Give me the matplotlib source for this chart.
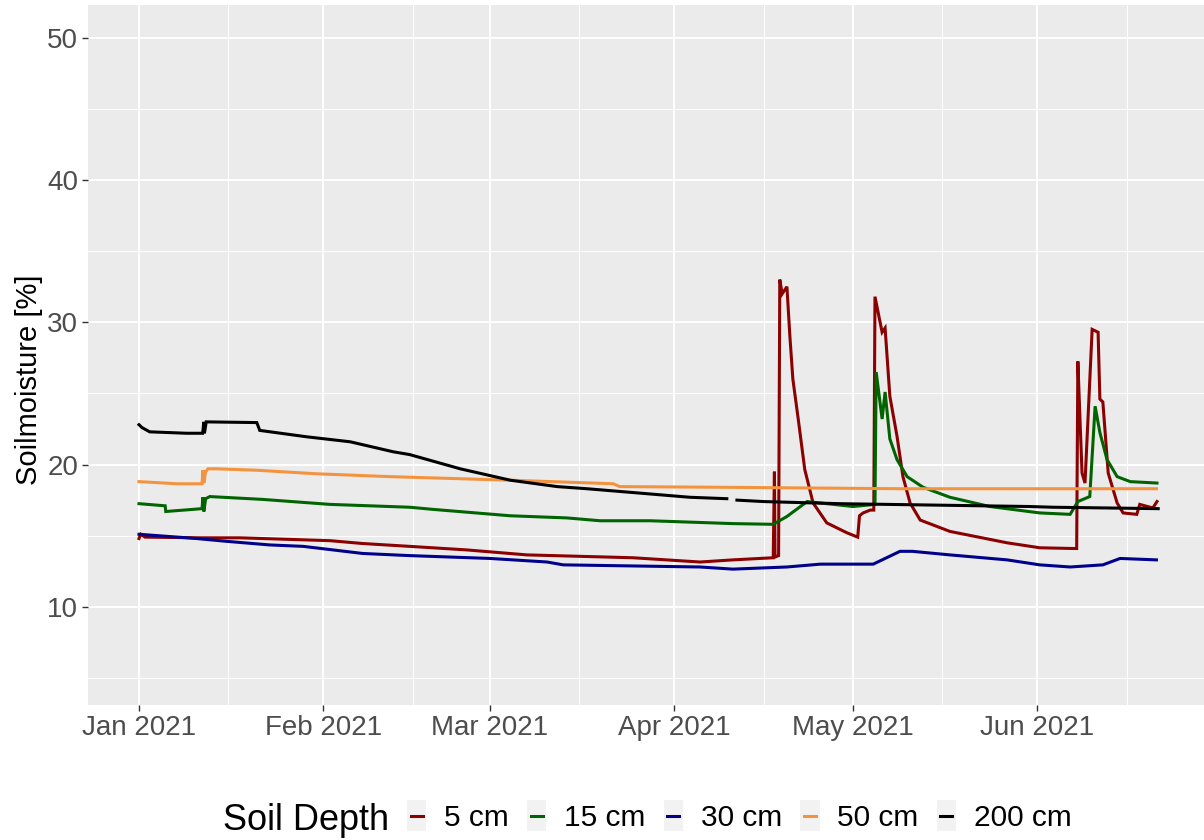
import matplotlib.pyplot as plt
import matplotlib.dates as mdates
import numpy as np
import pandas as pd
from matplotlib.lines import Line2D
from matplotlib.patches import Rectangle
from matplotlib.legend_handler import HandlerBase

plt.rcParams['font.family'] = ['Liberation Sans', 'DejaVu Sans']

start = pd.Timestamp('2021-01-01')

# days since 1 Jan 2021 and soil moisture [%] per depth
t5 = [0, 0.3, 1, 10.3, 17, 32.1, 37.6, 45.5, 55.1, 65.2, 83, 94.3, 99.8, 106.6,
      106.8, 106.9, 107.5, 107.7, 108.1, 108.9, 109.4, 109.9, 110.8, 111.9, 113.3,
      115.6, 119, 120.8, 121.1, 121.7, 122.9, 123.5, 123.7, 124.9, 125.4, 126.2,
      127.4, 128.4, 129.6, 131.3, 136.3, 145.9, 151.4, 157, 157.6, 157.8, 158.2,
      158.5, 159, 160.2, 161.2, 161.5, 162, 162.9, 164.4, 165.4, 167.7, 168.2,
      170.4, 171.1]
v5 = [14.8, 15.1, 14.9, 14.85, 14.85, 14.65, 14.45, 14.25, 14.0, 13.65, 13.45,
      13.15, 13.3, 13.45, 19.5, 13.5, 13.6, 33.0, 32.0, 32.5, 29.0, 26.0, 23.2,
      19.65, 17.3, 15.9, 15.2, 14.9, 16.4, 16.6, 16.8, 16.8, 31.8, 29.3, 29.6,
      24.8, 22.0, 19.15, 17.3, 16.1, 15.3, 14.5, 14.15, 14.1, 14.1, 27.25, 22.7,
      19.4, 18.7, 29.5, 29.3, 24.6, 24.4, 19.4, 17.3, 16.6, 16.5, 17.2, 16.95,
      17.4]

t15 = [0, 4.4, 4.5, 10.6, 10.75, 10.9, 11.2, 11.9, 20.8, 32.1, 45.5, 49.4, 62.4,
       71.9, 77.5, 85.9, 99.8, 106.6, 108.9, 112.3, 114.5, 120, 123.7, 123.9,
       124.9, 125.4, 126.2, 127.4, 129.1, 131.8, 136.3, 143, 151.4, 156.5, 157.8,
       159.8, 160.7, 161.5, 162.7, 164.4, 166.6, 171.1]
v15 = [17.25, 17.1, 16.7, 16.9, 17.7, 16.7, 17.6, 17.75, 17.55, 17.2, 17.0, 16.85,
       16.4, 16.25, 16.05, 16.05, 15.85, 15.8, 16.35, 17.4, 17.3, 17.05, 17.2,
       26.5, 23.2, 25.1, 21.8, 20.35, 19.15, 18.4, 17.7, 17.05, 16.6, 16.5, 17.4,
       17.75, 24.1, 22.25, 20.35, 19.15, 18.8, 18.7]

t30 = [0, 9.7, 14.8, 22, 27.6, 37.6, 45.5, 59, 68.6, 71.3, 94.3, 99.8, 108.9,
       114.5, 123.4, 127.9, 130, 136.3, 145.9, 151.4, 156.5, 162, 164.9, 171]
v30 = [15.1, 14.8, 14.6, 14.35, 14.25, 13.75, 13.6, 13.4, 13.15, 12.95, 12.8,
       12.65, 12.8, 13.0, 13.0, 13.9, 13.9, 13.65, 13.3, 12.95, 12.8, 12.95, 13.4,
       13.3]

t50 = [0, 6.4, 10.6, 10.75, 10.9, 11.2, 11.6, 13.1, 19.8, 29.9, 42.2, 62.4, 79.7,
       80.8, 98.8, 128, 171]
v50 = [18.8, 18.65, 18.65, 19.6, 18.7, 19.5, 19.7, 19.7, 19.6, 19.35, 19.15,
       18.9, 18.65, 18.45, 18.4, 18.3, 18.3]

t200 = [0, 0.5, 1.8, 8, 10.7, 10.9, 11.0, 11.3, 19.8, 20.3, 28.2, 35.5, 42.7,
        45.5, 54, 62.4, 70.3, 75.3, 85.4, 92.6, 98.8, 99.6, 100.5, 104.9, 117.8,
        149.7, 153.6, 171.3]
v200 = [22.8, 22.6, 22.3, 22.2, 22.2, 23.0, 22.2, 23.0, 22.95, 22.4, 21.95, 21.6,
        20.9, 20.7, 19.7, 18.9, 18.45, 18.3, 17.95, 17.7, 17.6, np.nan, 17.5, 17.4,
        17.25, 17.05, 17.0, 16.9]

series = [
    ('5 cm', t5, v5, '#8B0000'),
    ('15 cm', t15, v15, '#006400'),
    ('30 cm', t30, v30, '#00008B'),
    ('50 cm', t50, v50, '#F4933F'),
    ('200 cm', t200, v200, '#000000'),
]


def to_dates(days):
    return start + pd.to_timedelta(np.asarray(days, dtype=float), unit='D')


class BoxedKey(HandlerBase):
    """Legend key: short line on a light grey square."""

    def create_artists(self, legend, orig, xd, yd, w, h, fs, trans):
        cy = -yd + h / 2
        box = Rectangle((-xd, cy - 11), w, 22, facecolor='#F2F2F2',
                        edgecolor='none', transform=trans)
        line = Line2D([-xd + 0.2 * w, -xd + 0.8 * w], [cy, cy],
                      color=orig.get_color(), lw=orig.get_linewidth(),
                      transform=trans)
        return [box, line]


fig = plt.figure(figsize=(12.04, 8.4), dpi=100)
ax = fig.add_axes([88 / 1204, 1 - 705 / 840, 1 - 88 / 1204, 700 / 840])
ax.set_facecolor('#EBEBEB')
for s in ax.spines.values():
    s.set_visible(False)

handles = []
for label, t, v, col in series:
    ln, = ax.plot(to_dates(t), v, color=col, lw=2.2, solid_joinstyle='miter')
    handles.append(ln)

ax.set_xlim(to_dates([-8.57])[0], to_dates([179.0])[0])
ax.set_ylim(3.1, 52.3)

months = pd.date_range('2021-01-01', '2021-06-01', freq='MS')
mids = months + pd.Timedelta(days=15)
ax.set_xticks(months)
ax.xaxis.set_major_formatter(mdates.DateFormatter('%b %Y'))
ax.set_xticks(mids, minor=True)
ax.set_yticks([10, 20, 30, 40, 50])
ax.set_yticks([5, 15, 25, 35, 45], minor=True)

ax.grid(which='major', color='white', lw=1.4)
ax.grid(which='minor', color='white', lw=0.7)
ax.set_axisbelow(True)
ax.tick_params(which='major', length=4, width=1, color='#333333',
               labelsize=20, labelcolor='#4D4D4D', pad=3)
ax.tick_params(which='minor', length=0)

ax.set_ylabel('Soilmoisture [%]', fontsize=21, color='black')
ax.yaxis.set_label_coords(-0.040, 0.465)

fig.text(223 / 1204, 1 - 820 / 840, 'Soil Depth', fontsize=26,
         va='center', ha='left')
fig.legend(handles, [s[0] for s in series],
           handler_map={Line2D: BoxedKey()},
           loc='center left', bbox_to_anchor=(407 / 1204, 1 - 817 / 840),
           ncol=5, frameon=False, fontsize=21.5, handlelength=0.65,
           handleheight=1.0, handletextpad=0.6, columnspacing=0.6,
           borderpad=0, borderaxespad=0)

fig.savefig('out.png', dpi=100)
